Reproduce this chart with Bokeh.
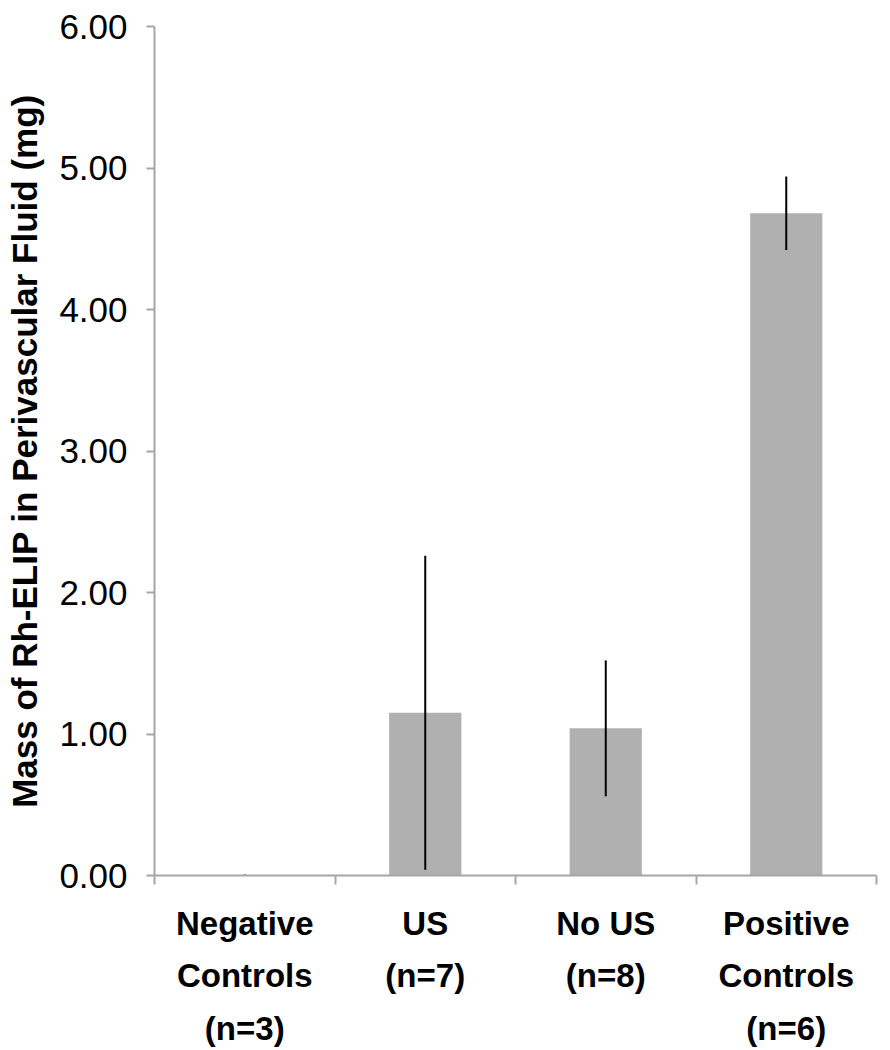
from bokeh.plotting import figure
from bokeh.models import Range1d, FixedTicker, NumeralTickFormatter
from bokeh.embed import file_html
from bokeh.resources import INLINE

# ---- data ----
categories = ["Negative\nControls\n(n=3)", "US\n(n=7)", "No US\n(n=8)", "Positive\nControls\n(n=6)"]
means = [0.003, 1.15, 1.04, 4.68]
errors = [0.004, 1.11, 0.48, 0.26]
y_ticks = [0, 1, 2, 3, 4, 5, 6]
y_label = "Mass of Rh-ELIP in Perivascular Fluid (mg)"

centers = [i + 0.5 for i in range(len(categories))]
bounds = [float(i) for i in range(len(categories) + 1)]
lower = [m - e for m, e in zip(means, errors)]
upper = [m + e for m, e in zip(means, errors)]

AXIS_GREY = "#A6A6A6"
BAR_GREY = "#B0B0B0"

p = figure(width=880, height=1049,
           x_range=Range1d(0, len(categories)), y_range=Range1d(0, 6),
           output_backend="svg", toolbar_location=None,
           min_border_left=154, min_border_right=4,
           min_border_top=26, min_border_bottom=172)
p.grid.visible = False
p.outline_line_color = None
p.background_fill_color = "white"
p.border_fill_color = "white"

p.vbar(x=centers, top=means, bottom=0, width=0.4,
       fill_color=BAR_GREY, line_color=None)
p.segment(x0=centers, y0=lower, x1=centers, y1=upper,
          line_color="black", line_width=2)

# x axis
xa = p.xaxis[0]
xa.ticker = FixedTicker(ticks=centers, minor_ticks=bounds)
xa.major_label_overrides = {c: lab for c, lab in zip(centers, categories)}
xa.major_tick_out = 0
xa.major_tick_in = 0
xa.minor_tick_out = 9
xa.minor_tick_in = 0
xa.minor_tick_line_color = AXIS_GREY
xa.minor_tick_line_width = 2
xa.axis_line_color = AXIS_GREY
xa.axis_line_width = 2
xa.major_label_standoff = 20
xa.major_label_text_font = "Liberation Sans"
xa.major_label_text_font_style = "bold"
xa.major_label_text_font_size = "33px"
xa.major_label_text_color = "black"
xa.major_label_text_line_height = 1.42

# y axis
ya = p.yaxis[0]
ya.ticker = FixedTicker(ticks=y_ticks)
ya.formatter = NumeralTickFormatter(format="0.00")
ya.major_tick_out = 8
ya.major_tick_in = 0
ya.minor_tick_out = 0
ya.minor_tick_in = 0
ya.major_tick_line_color = AXIS_GREY
ya.major_tick_line_width = 2
ya.axis_line_color = AXIS_GREY
ya.axis_line_width = 2
ya.major_label_standoff = 19
ya.major_label_text_font = "Liberation Sans"
ya.major_label_text_font_size = "35px"
ya.major_label_text_color = "black"
ya.axis_label = y_label
ya.axis_label_text_font = "Liberation Sans"
ya.axis_label_text_font_style = "bold"
ya.axis_label_text_font_size = "35px"
ya.axis_label_text_color = "black"
ya.axis_label_standoff = 12

open("out.html", "w").write(file_html(p, INLINE))
